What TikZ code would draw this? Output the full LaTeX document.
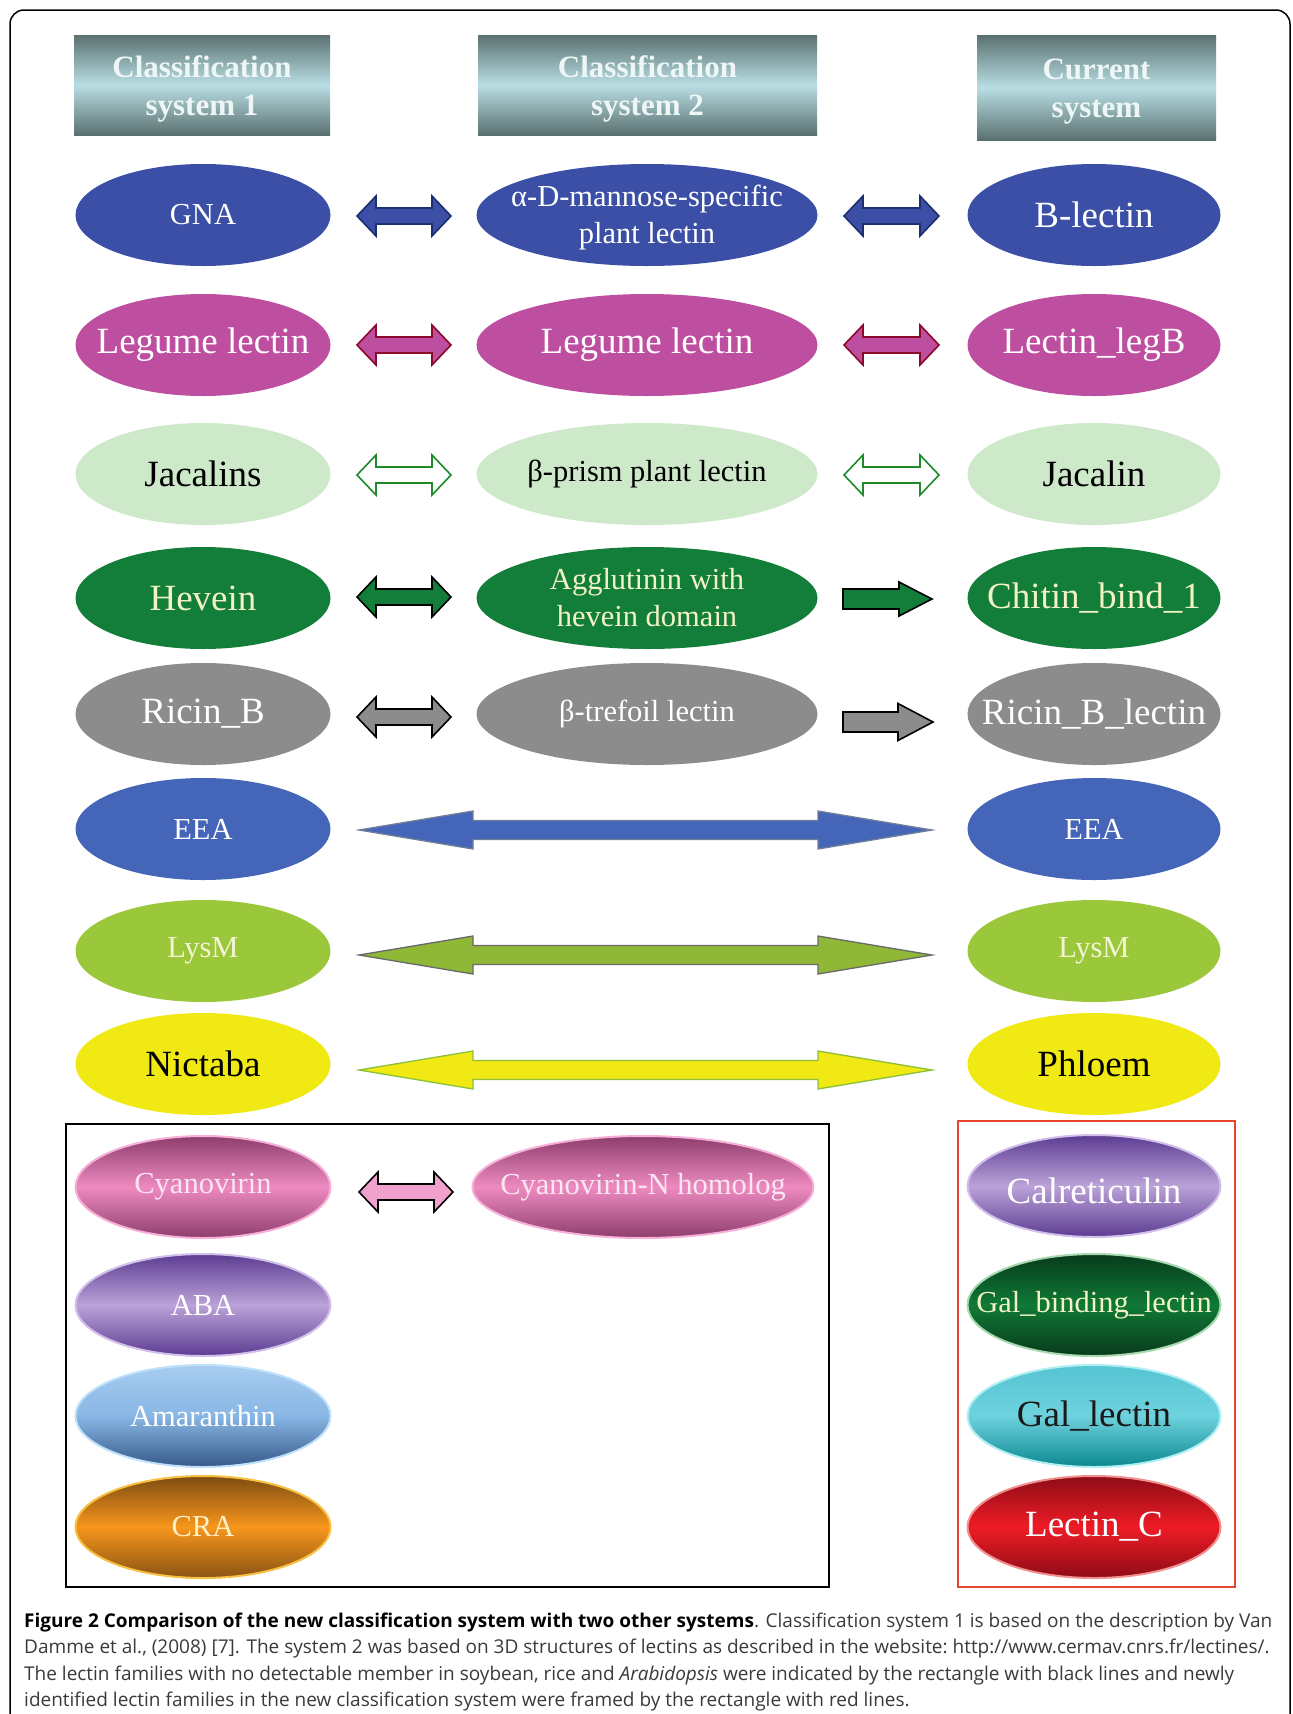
\documentclass[tikz,border=0pt]{standalone}
\usepackage{fontspec}
\setmainfont{Liberation Serif}
\newfontfamily\capfont{Open Sans}
\usetikzlibrary{shapes.geometric}

\definecolor{hdrdark}{HTML}{5B7171}
\definecolor{hdrlight}{HTML}{B8DEE3}
\definecolor{hdrtext}{HTML}{EEF6F6}
\definecolor{gnablue}{HTML}{3A4FA5}
\definecolor{gnaline}{HTML}{1E2E70}
\definecolor{legmag}{HTML}{BE4E9F}
\definecolor{legline}{HTML}{8A0A2A}
\definecolor{jacgreen}{HTML}{CDE9C9}
\definecolor{jacline}{HTML}{1E8A2A}
\definecolor{hevgreen}{HTML}{127E3A}
\definecolor{hevtext}{HTML}{F3F2C4}
\definecolor{ricgray}{HTML}{8C8C8C}
\definecolor{eeablue}{HTML}{4565B8}
\definecolor{eealine}{HTML}{6F7F99}
\definecolor{lysgreen}{HTML}{9BC83B}
\definecolor{lysline}{HTML}{6A6A6A}
\definecolor{lystext}{HTML}{F4F4D4}
\definecolor{nicyellow}{HTML}{F1E914}
\definecolor{nicline}{HTML}{8CC03C}
\definecolor{pinkdark}{HTML}{8E3E6C}
\definecolor{pinkmid}{HTML}{EE8AC0}
\definecolor{pinkglow}{HTML}{F6B0D8}
\definecolor{pinktext}{HTML}{FAE6F2}
\definecolor{purdark}{HTML}{5C3C92}
\definecolor{purmid}{HTML}{BBA2D8}
\definecolor{purglow}{HTML}{D2C0EA}
\definecolor{amatop}{HTML}{A8CDF0}
\definecolor{amamid}{HTML}{88B6E4}
\definecolor{amabot}{HTML}{36598A}
\definecolor{amaglow}{HTML}{BFE0FA}
\definecolor{cradark}{HTML}{7E4C12}
\definecolor{cramid}{HTML}{F7961C}
\definecolor{craglow}{HTML}{F8C040}
\definecolor{cratext}{HTML}{FFF0C8}
\definecolor{galdark}{HTML}{083A1C}
\definecolor{galmid}{HTML}{0F7A36}
\definecolor{galglow}{HTML}{A8D8B0}
\definecolor{gltop}{HTML}{56C4D2}
\definecolor{glmid}{HTML}{6ED2DE}
\definecolor{glbot}{HTML}{0C8890}
\definecolor{glglow}{HTML}{B0EEF4}
\definecolor{reddark}{HTML}{8E0C16}
\definecolor{redmid}{HTML}{EE1C26}
\definecolor{redglow}{HTML}{F29090}
\definecolor{framered}{HTML}{E8452F}
\definecolor{capgray}{HTML}{3A3A3A}

\tikzset{
  hdr/.style={rectangle, inner sep=0pt, top color=hdrdark, bottom color=hdrdark,
    middle color=hdrlight},
  hdrtxt/.style={text=hdrtext, align=center, inner sep=0pt, yshift=-4pt,
    font=\bfseries\fontsize{31}{38}\selectfont},
  eA/.style={ellipse, inner sep=0pt, minimum width=255pt, minimum height=102pt},
  eB/.style={ellipse, inner sep=0pt, minimum width=341pt, minimum height=102pt},
  eC/.style={ellipse, inner sep=0pt, minimum width=253pt, minimum height=102pt},
  big/.style={font=\fontsize{37}{40}\selectfont, align=center, inner sep=0pt},
  sml/.style={font=\fontsize{30.5}{37}\selectfont, align=center, inner sep=0pt},
  arr/.style={line width=1.6pt, line join=miter},
  capline/.style={anchor=base west, inner sep=0pt, text=capgray,
    font=\capfont\fontsize{19}{21}\selectfont},
}

% double block arrow: style, x1, x2, y, head length, head half height, shaft half height
\newcommand\DA[7]{\draw[#1] (#2,#4) -- ({#2+#5},{#4-#6}) -- ({#2+#5},{#4-#7}) -- ({#3-#5},{#4-#7}) -- ({#3-#5},{#4-#6}) -- (#3,#4) -- ({#3-#5},{#4+#6}) -- ({#3-#5},{#4+#7}) -- ({#2+#5},{#4+#7}) -- ({#2+#5},{#4+#6}) -- cycle;}
% single block arrow pointing right
\newcommand\SA[7]{\draw[#1] (#2,{#4-#7}) -- ({#3-#5},{#4-#7}) -- ({#3-#5},{#4-#6}) -- (#3,#4) -- ({#3-#5},{#4+#6}) -- ({#3-#5},{#4+#7}) -- (#2,{#4+#7}) -- cycle;}

\begin{document}
\begin{tikzpicture}[x=1pt,y=-1pt]
\useasboundingbox (0,0) rectangle (1293,1714);
\fill[white] (0,0) rectangle (1293,1714);
\draw[line width=1.5pt, rounded corners=14pt] (10,1714) -- (10,10) -- (1290,10) -- (1290,1714);

% headers
\node[hdr, minimum width=256pt, minimum height=100pt, label={[hdrtxt]center:Classification\\system 1}] (h1) at (202,85) {};
\node[hdr, minimum width=339pt, minimum height=100pt, label={[hdrtxt]center:Classification\\system 2}] (h2) at (647.5,85) {};
\node[hdr, minimum width=239pt, minimum height=105pt, label={[hdrtxt]center:Current\\system}] (h3) at (1096.5,87.5) {};

% row 1
\node[eA, fill=gnablue, label={[sml,text=white]center:GNA}] (gna) at (203,215) {};
\node[eB, fill=gnablue, label={[sml,text=white,yshift=-3pt]center:α-D-mannose-specific\\plant lectin}] (man) at (647,215) {};
\node[eC, fill=gnablue, label={[big,text=white]center:B-lectin}] (blec) at (1094,215) {};
% row 2
\node[eA, fill=legmag, label={[big,text=white]center:Legume lectin}] (leg1) at (203,345) {};
\node[eB, fill=legmag, label={[big,text=white]center:Legume lectin}] (leg2) at (647,345) {};
\node[eC, fill=legmag, label={[big,text=white]center:Lectin\_legB}] (legb) at (1094,345) {};
% row 3
\node[eA, fill=jacgreen, label={[big,text=black]center:Jacalins}] (jac1) at (203,474) {};
\node[eB, fill=jacgreen, label={[sml,text=black]center:β-prism plant lectin}] (jac2) at (647,474) {};
\node[eC, fill=jacgreen, label={[big,text=black]center:Jacalin}] (jac3) at (1094,474) {};
% row 4
\node[eA, fill=hevgreen, label={[big,text=hevtext]center:Hevein}] (hev1) at (203,598) {};
\node[eB, fill=hevgreen, label={[sml,text=hevtext]center:Agglutinin with\\hevein domain}] (hev2) at (647,598) {};
\node[eC, fill=hevgreen, label={[big,text=hevtext]center:Chitin\_bind\_1}] (hev3) at (1094,598) {};
% row 5
\node[eA, fill=ricgray, label={[big,text=white]center:Ricin\_B}] (ric1) at (203,714) {};
\node[eB, fill=ricgray, label={[sml,text=white]center:β-trefoil lectin}] (ric2) at (647,714) {};
\node[eC, fill=ricgray, label={[big,text=white]center:Ricin\_B\_lectin}] (ric3) at (1094,714) {};
% rows 6-8
\node[eA, fill=eeablue, label={[sml,text=white]center:EEA}] (eea1) at (203,829) {};
\node[eC, fill=eeablue, label={[sml,text=white]center:EEA}] (eea3) at (1094,829) {};
\node[eA, fill=lysgreen, label={[sml,text=lystext]center:LysM}] (lys1) at (203,951) {};
\node[eC, fill=lysgreen, label={[sml,text=lystext]center:LysM}] (lys3) at (1094,951) {};
\node[eA, fill=nicyellow, label={[big,text=black]center:Nictaba}] (nic1) at (203,1064) {};
\node[eC, fill=nicyellow, label={[big,text=black]center:Phloem}] (nic3) at (1094,1064) {};

% small arrows
\DA{arr, fill=gnablue, draw=gnaline}{357}{451}{216}{19}{20}{8}
\DA{arr, fill=gnablue, draw=gnaline}{844}{939}{216}{19}{20}{8}
\DA{arr, fill=legmag, draw=legline}{357}{451}{345}{19}{20}{8}
\DA{arr, fill=legmag, draw=legline}{844}{939}{345}{19}{20}{8}
\DA{arr, fill=white, draw=jacline}{357}{451}{475}{19}{20}{8}
\DA{arr, fill=white, draw=jacline}{844}{939}{475}{19}{20}{8}
\DA{arr, fill=hevgreen, draw=black}{357}{451}{597}{19}{20}{8}
\SA{arr, fill=hevgreen, draw=black}{843}{932}{599}{33}{17}{10}
\DA{arr, fill=ricgray, draw=black}{357}{451}{717}{19}{20}{8}
\SA{arr, fill=ricgray, draw=black}{843}{933}{722}{35}{18.5}{10}
% long arrows
\DA{arr, line width=1.3pt, fill=eeablue, draw=eealine}{359}{932}{830}{114}{19}{9.5}
\DA{arr, line width=1.3pt, fill=lysgreen!92!black, draw=lysline}{359}{932}{955}{114}{19}{9.5}
\DA{arr, line width=1.3pt, fill=nicyellow, draw=nicline}{359}{932}{1070}{114}{19}{9.5}

% framed groups
\draw[line width=2.5pt] (66,1124) rectangle (829,1587);
\draw[line width=2pt, framered] (958,1121) rectangle (1235,1587);

% bottom shaded ellipses
\node[eA, top color=pinkdark, bottom color=pinkdark, middle color=pinkmid, draw=pinkglow, line width=2pt,
  label={[sml,text=pinktext]center:Cyanovirin}] (cya1) at (203,1187) {};
\node[eB, top color=pinkdark, bottom color=pinkdark, middle color=pinkmid, draw=pinkglow, line width=2pt,
  label={[sml,text=pinktext]center:Cyanovirin-N homolog}] (cya2) at (643,1187) {};
\DA{arr, fill=pinkmid!80!white, draw=black}{359}{453}{1192}{19}{20}{8}
\node[eA, top color=purdark, bottom color=purdark, middle color=purmid, draw=purglow, line width=2pt,
  label={[sml,text=white]center:ABA}] (aba) at (203,1305) {};
\node[eA, top color=amatop, bottom color=amabot, middle color=amamid, draw=amaglow, line width=2pt,
  label={[sml,text=white]center:Amaranthin}] (ama) at (203,1416) {};
\node[eA, top color=cradark, bottom color=cradark!90!cramid, middle color=cramid, draw=craglow, line width=2pt,
  label={[sml,text=cratext]center:CRA}] (cra) at (203,1527) {};

\node[eC, top color=purdark, bottom color=purdark, middle color=purmid, draw=purglow, line width=2pt,
  label={[big,text=white,yshift=-5pt]center:Calreticulin}] (cal) at (1094,1186) {};
\node[eC, top color=galdark, bottom color=galdark, middle color=galmid, draw=galglow, line width=2pt,
  label={[sml,text=hevtext]center:Gal\_binding\_lectin}] (galb) at (1094,1305) {};
\node[eC, top color=gltop, bottom color=glbot, middle color=glmid, draw=glglow, line width=2pt,
  label={[big,text=black!90]center:Gal\_lectin}] (gall) at (1094,1416) {};
\node[eC, top color=reddark, bottom color=reddark, middle color=redmid, draw=redglow, line width=2pt,
  label={[big,text=white]center:Lectin\_C}] (lecc) at (1094,1527) {};

% caption
\node[capline] (c1) at (24,1627) {\textcolor{black}{\textbf{Figure 2 Comparison of the new classification system with two other systems}}. Classification system 1 is based on the description by Van};
\node[capline] (c2) at (24,1653.5) {Damme et al., (2008) [7]. The system 2 was based on 3D structures of lectins as described in the website:~http://www.cermav.cnrs.fr/lectines/.};
\node[capline] (c3) at (24,1680) {The lectin families with no detectable member in soybean, rice and \textit{Arabidopsis} were indicated by the rectangle with black lines and newly};
\node[capline] (c4) at (24,1706.5) {identified lectin families in the new classification system were framed by the rectangle with red lines.};
\end{tikzpicture}
\end{document}
